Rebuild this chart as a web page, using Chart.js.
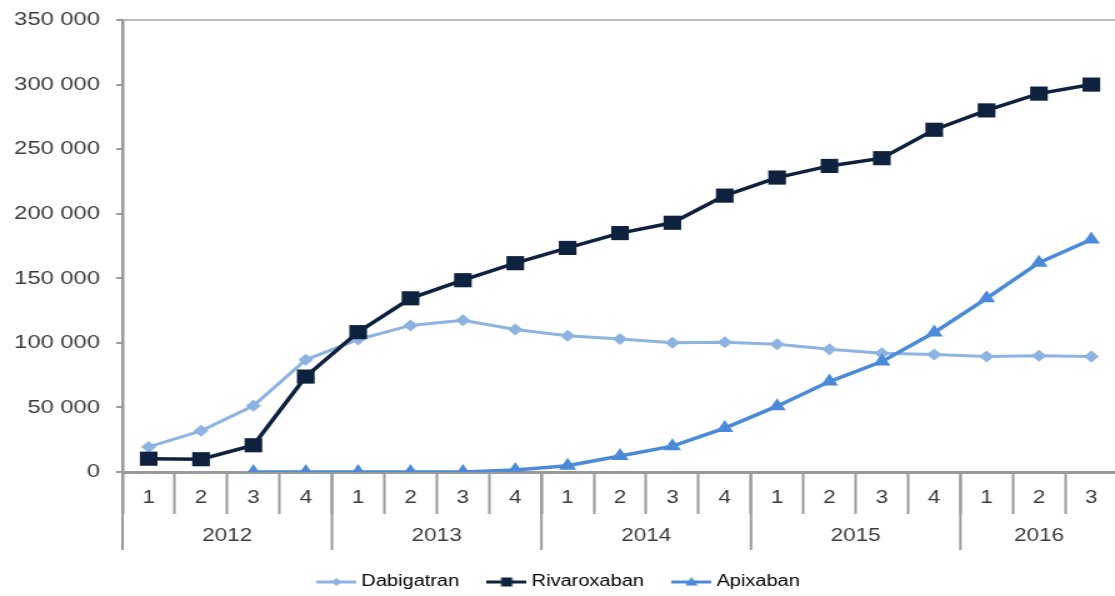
<!DOCTYPE html>
<html>
<head>
<meta charset="utf-8">
<script src="https://cdn.jsdelivr.net/npm/chart.js@4"></script>
<style>
  html, body { margin: 0; padding: 0; background: #fff; overflow: hidden; }
  /* the source picture is stretched sideways, so the whole chart is too */
  #wrap { width: 904px; height: 596px; transform: scaleX(1.25); transform-origin: 0 0; }
</style>
</head>
<body>
<div id="wrap"><canvas id="chart"></canvas></div>
<script>
// Data
const quarters = ['1', '2', '3', '4', '1', '2', '3', '4', '1', '2', '3', '4', '1', '2', '3', '4', '1', '2', '3'];
const years = ['2012', '2013', '2014', '2015', '2016'];
const quartersPerYear = [4, 4, 4, 4, 3];
const dabigatran = [19400, 31900, 51300, 86900, 102600, 113500, 117500, 110400, 105500, 103000, 100000, 100500, 99000, 95000, 92000, 91000, 89500, 90000, 89500];
const rivaroxaban = [10300, 9900, 20700, 73900, 108300, 134500, 148500, 161700, 173500, 185000, 193000, 214000, 228000, 237000, 243000, 265000, 280000, 293000, 300000];
const apixaban = [null, null, 0, 0, 0, 0, 0, 1500, 4800, 12400, 20000, 34000, 51000, 70000, 85500, 108000, 134500, 162000, 180000];

const textColor = '#3c3c3c';
const axisGrey = '#9a9a9a';
const fontFamily = '"Liberation Sans", Arial, sans-serif';

function fmt(v) {
    return String(v).replace(/\B(?=(\d{3})+(?!\d))/g, ' ');
}

// Small line + marker picture for the legend
function legendIcon(color, style, r) {
    const c = document.createElement('canvas');
    c.width = 32; c.height = 14;
    const g = c.getContext('2d');
    g.strokeStyle = color; g.fillStyle = color; g.lineWidth = 3;
    g.beginPath(); g.moveTo(0, 7); g.lineTo(32, 7); g.stroke();
    g.beginPath();
    if (style === 'rect') {
        g.rect(16 - r, 7 - r, 2 * r, 2 * r);
    } else if (style === 'triangle') {
        g.moveTo(16, 7 - r); g.lineTo(16 + r, 7 + r * 0.7); g.lineTo(16 - r, 7 + r * 0.7); g.closePath();
    } else {
        g.moveTo(16, 7 - r); g.lineTo(16 + r, 7); g.lineTo(16, 7 + r); g.lineTo(16 - r, 7); g.closePath();
    }
    g.fill();
    return c;
}

// Year row under the quarter labels
const yearRow = {
    id: 'yearRow',
    afterDraw(chart) {
        const x = chart.scales.x, area = chart.chartArea, ctx = chart.ctx;
        const cat = x.width / quarters.length;
        ctx.save();
        ctx.strokeStyle = axisGrey;
        ctx.lineWidth = 2;
        ctx.fillStyle = textColor;
        ctx.font = '18px ' + fontFamily;
        ctx.textAlign = 'center';
        ctx.textBaseline = 'middle';
        let start = 0;
        years.forEach((yr, i) => {
            const left = x.getPixelForValue(start) - cat / 2;
            const right = x.getPixelForValue(start + quartersPerYear[i] - 1) + cat / 2;
            ctx.beginPath();
            ctx.moveTo(left, area.bottom);
            ctx.lineTo(left, area.bottom + 78);
            ctx.stroke();
            ctx.fillText(yr, (left + right) / 2, area.bottom + 64);
            start += quartersPerYear[i];
        });
        ctx.restore();
    }
};

const series = [
    { label: 'Dabigatran', data: dabigatran, color: '#8db3e2', style: 'rectRot', radius: 6, width: 3, order: 3, icon: legendIcon('#8db3e2', 'rectRot', 4) },
    { label: 'Rivaroxaban', data: rivaroxaban, color: '#0e223f', style: 'rect', radius: 10, width: 3.5, order: 1, icon: legendIcon('#0e223f', 'rect', 4.5) },
    { label: 'Apixaban', data: apixaban, color: '#4a8ad8', style: 'triangle', radius: 8, width: 3.5, order: 2, icon: legendIcon('#4a8ad8', 'triangle', 5) }
];

const ctx = document.getElementById('chart').getContext('2d');
const chart = new Chart(ctx, {
    type: 'line',
    data: {
        labels: quarters,
        datasets: series.map(s => ({
            label: s.label,
            data: s.data,
            borderColor: s.color,
            backgroundColor: s.color,
            borderWidth: s.width,
            pointStyle: s.style,
            pointRadius: s.radius,
            pointBorderWidth: 0,
            tension: 0,
            order: s.order
        }))
    },
    options: {
        responsive: true,
        maintainAspectRatio: false,
        animation: false,
        layout: { padding: { left: 0, right: 7, top: 20, bottom: -4 } },
        plugins: {
            tooltip: { enabled: false },
            legend: {
                position: 'bottom',
                labels: {
                    usePointStyle: true,
                    pointStyleWidth: 24,
                    padding: 26,
                    color: textColor,
                    font: { family: fontFamily, size: 16 },
                    generateLabels: () => series.map((s, i) => ({
                        text: s.label,
                        fillStyle: s.color,
                        strokeStyle: s.color,
                        lineWidth: 0,
                        pointStyle: s.icon,
                        datasetIndex: i,
                        hidden: false
                    }))
                }
            }
        },
        scales: {
            x: {
                offset: true,
                grid: { offset: true, drawOnChartArea: false, tickLength: 42, tickWidth: 2, tickColor: axisGrey },
                border: { color: axisGrey, width: 3 },
                ticks: { padding: -27, color: textColor, font: { family: fontFamily, size: 18 }, maxRotation: 0, autoSkip: false },
                afterFit(s) { s.height = 76; }
            },
            y: {
                min: 0,
                max: 350000,
                ticks: { stepSize: 50000, padding: 13, color: textColor, font: { family: fontFamily, size: 19 }, callback: fmt },
                grid: {
                    color: c => c.tick && c.tick.value === 350000 ? '#bdbdbd' : 'rgba(0,0,0,0)',
                    lineWidth: 2,
                    tickColor: axisGrey,
                    tickLength: 5,
                    tickWidth: 2
                },
                border: { color: axisGrey, width: 2.5 },
                afterFit(s) {
                    s.width = 98;
                    s.paddingTop = 8;
                    s.paddingBottom = 8;
                }
            }
        }
    },
    plugins: [yearRow]
});
</script>
</body>
</html>
